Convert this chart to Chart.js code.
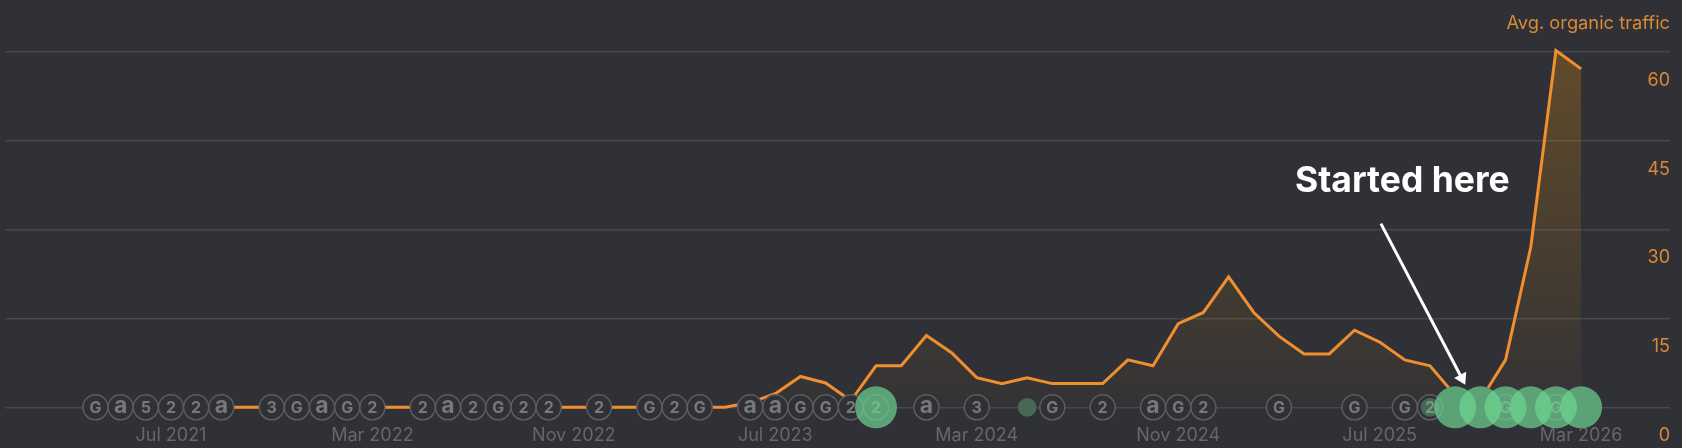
<!DOCTYPE html>
<html>
<head>
<meta charset="utf-8">
<style>
  html, body { margin: 0; padding: 0; background: #303136; }
  canvas { display: block; }
</style>
<script src="https://cdn.jsdelivr.net/npm/chart.js@4/dist/chart.umd.min.js"></script>
</head>
<body>
<canvas id="chart" width="1682" height="448"></canvas>
<script>
// months counted from Jul 2021 (0), one point per month, Apr 2021 -> Mar 2026
const months = [-3,-2,-1,0,1,2,3,4,5,6,7,8,9,10,11,12,13,14,15,16,17,18,19,20,21,22,23,24,25,26,27,28,29,30,31,32,33,34,35,36,37,38,39,40,41,42,43,44,45,46,47,48,49,50,51,52,53,54,55,56];
const traffic = [0,0,0,0,0,0,0,0,0,0,0,0,0,0,0,0,0,0,0,0,0,0,0,0,0,0,0.8,2.3,5.2,4.1,1.1,7,7,12.1,9.2,5,4,5,4,4,4,8,7,14.1,16,22,16,12,9,9,13,11,8,7,2,1.2,8,27,60.2,57.1];
const tickLabels = ["Jul 2021","Mar 2022","Nov 2022","Jul 2023","Mar 2024","Nov 2024","Jul 2025","Mar 2026"];
const yTicks = [0,15,30,45,60];

// update markers along the baseline
const markerMonths = [-3,-2,-1,0,1,2,4,5,6,7,8,10,11,12,13,14,15,17,19,20,21,23,24,25,26,27,28,30,32,35,37,39,40,41,44,47,49,50,53,55];
const markerLetters = ["G","a","5","2","2","a","3","G","a","G","2","2","a","2","G","2","2","2","G","2","G","a","a","G","G","2","2","a","3","G","2","a","G","2","G","G","G","2","G","G"];

// green highlight bubbles
const highlightMonths = [28,34,50,51,52,53,54,55,56];
const highlightVolumes = [5,1,1,5,5,5,5,5,5];

const ORANGE = "#f08f2f";
const ORANGE_TEXT = "#d98a35";
const GREY_TEXT = "#66676c";
const BACKGROUND = "#303136";
const FONT = "Inter, sans-serif";

const highlightRadius = (i) => 9.4 * Math.sqrt(highlightVolumes[i]);

const overlayPlugin = {
  id: "overlay",
  // letters sit on the marker circles but under the green bubbles
  afterDatasetDraw(chart, args) {
    if (args.index !== 1) return;
    const { ctx, scales } = chart;
    ctx.save();
    ctx.textAlign = "center";
    ctx.textBaseline = "middle";
    ctx.fillStyle = "#77787c";
    markerMonths.forEach((m, i) => {
      const letter = markerLetters[i];
      ctx.font = (letter === "a" ? "700 23px " : "700 16px ") + FONT;
      ctx.fillText(letter, scales.x.getPixelForValue(m), scales.y.getPixelForValue(0) + (letter === "a" ? -1.5 : 0.5));
    });
    ctx.restore();
  },
  afterDraw(chart) {
    const { ctx, scales, chartArea } = chart;
    ctx.save();

    // y labels hang below their gridlines
    ctx.font = "400 18px " + FONT;
    ctx.fillStyle = ORANGE_TEXT;
    ctx.textAlign = "right";
    ctx.textBaseline = "middle";
    yTicks.forEach((v) => {
      ctx.fillText(String(v), chartArea.right, scales.y.getPixelForValue(v) + 28.5);
    });
    ctx.font = "400 18.3px " + FONT;
    ctx.fillText("Avg. organic traffic", chartArea.right, 24);

    // annotation
    ctx.font = "700 35.5px " + FONT;
    ctx.fillStyle = "#ffffff";
    ctx.textAlign = "center";
    ctx.fillText("Started here", scales.x.getPixelForValue(48.9), scales.y.getPixelForValue(38.05));

    const x0 = scales.x.getPixelForValue(48.05), y0 = scales.y.getPixelForValue(31);
    const x1 = scales.x.getPixelForValue(51.4), y1 = scales.y.getPixelForValue(3.8);
    const angle = Math.atan2(y1 - y0, x1 - x0);
    ctx.strokeStyle = "#ffffff";
    ctx.lineWidth = 3;
    ctx.beginPath();
    ctx.moveTo(x0, y0);
    ctx.lineTo(x1 - 8 * Math.cos(angle), y1 - 8 * Math.sin(angle));
    ctx.stroke();
    ctx.beginPath();
    ctx.moveTo(x1, y1);
    ctx.lineTo(x1 - 13 * Math.cos(angle - 0.55), y1 - 13 * Math.sin(angle - 0.55));
    ctx.lineTo(x1 - 13 * Math.cos(angle + 0.55), y1 - 13 * Math.sin(angle + 0.55));
    ctx.closePath();
    ctx.fill();
    ctx.restore();
  },
};

new Chart(document.getElementById("chart").getContext("2d"), {
  type: "line",
  data: {
    datasets: [
      {
        label: "Avg. organic traffic",
        data: months.map((m, i) => ({ x: m, y: traffic[i] })),
        borderColor: ORANGE,
        borderWidth: 3,
        pointRadius: 0,
        tension: 0,
        clip: false,
        fill: "origin",
        order: 4,
        backgroundColor: (context) => {
          const area = context.chart.chartArea;
          if (!area) return "rgba(240,150,10,0.1)";
          const gradient = context.chart.ctx.createLinearGradient(0, area.top, 0, area.bottom);
          gradient.addColorStop(0, "rgba(240,150,10,0.26)");
          gradient.addColorStop(1, "rgba(240,150,10,0.02)");
          return gradient;
        },
      },
      {
        type: "bubble",
        label: "Updates",
        data: markerMonths.map((m) => ({ x: m, y: 0, r: 12.5 })),
        backgroundColor: BACKGROUND,
        borderColor: "#5c5d62",
        borderWidth: 1.5,
        clip: false,
        order: 2,
      },
      {
        type: "bubble",
        label: "Highlights",
        data: highlightMonths.map((m, i) => ({ x: m, y: 0, r: highlightRadius(i) })),
        backgroundColor: (context) =>
          context.raw && context.raw.r < 15 ? "rgba(110,212,145,0.35)" : "rgba(110,212,145,0.7)",
        borderWidth: 0,
        clip: false,
        order: 1,
      },
      {
        // hides the line behind the highlights, markers still show through
        type: "bubble",
        label: "Highlight base",
        data: highlightMonths.map((m, i) => ({ x: m, y: 0, r: highlightRadius(i) })),
        backgroundColor: BACKGROUND,
        borderWidth: 0,
        clip: false,
        order: 3,
      },
    ],
  },
  options: {
    responsive: false,
    animation: false,
    layout: { autoPadding: false, padding: { left: 5, right: 12, top: 51.7, bottom: 0 } },
    scales: {
      x: {
        type: "linear",
        min: -6.59,
        max: 59.53,
        grid: { display: false },
        border: { display: false },
        afterFit: (scale) => { scale.height = 40.7; },
        ticks: {
          stepSize: 8,
          autoSkip: false,
          maxRotation: 0,
          includeBounds: false,
          padding: 9,
          color: GREY_TEXT,
          font: { family: "Inter", size: 18 },
          callback: (value) => tickLabels[value / 8],
        },
      },
      y: {
        min: 0,
        max: 60,
        afterFit: (scale) => { scale.width = 0; },
        ticks: { display: false, stepSize: 15 },
        border: { display: false },
        grid: { color: "#47484d", lineWidth: 1.5, drawTicks: false },
      },
    },
    plugins: {
      legend: { display: false },
      tooltip: { enabled: false },
    },
  },
  plugins: [overlayPlugin],
});
</script>
</body>
</html>
